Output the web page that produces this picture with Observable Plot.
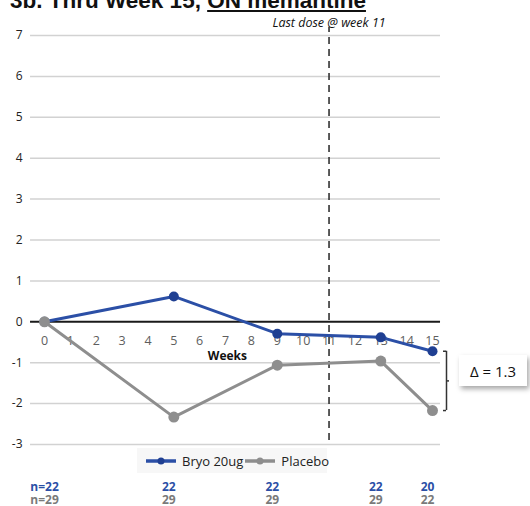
<!DOCTYPE html>
<html>
<head>
<meta charset="utf-8">
<script src="https://cdn.jsdelivr.net/npm/d3@7"></script>
<script src="https://cdn.jsdelivr.net/npm/@observablehq/plot@0.6"></script>
<style>
  html, body { margin: 0; padding: 0; background: #fff; }
  #wrap { position: relative; width: 530px; height: 506px; overflow: hidden; font-family: "Open Sans", "Noto Sans", sans-serif; }
  #title { position: absolute; left: 10px; top: -11px; font-family: "Liberation Sans", Arial, sans-serif; font-weight: bold; font-size: 22.5px; color: #111; white-space: nowrap; line-height: 24px; }
  #chart { position: absolute; left: 0; top: 0; }
  #delta { position: absolute; left: 459px; top: 355px; width: 68px; height: 31px; background: #fff; box-shadow: 2px 3px 5px rgba(0,0,0,0.35); font-size: 15px; color: #111; display: flex; align-items: center; justify-content: center; white-space: nowrap; }
  #legend { position: absolute; left: 137px; top: 448px; width: 190px; height: 25px; background: #f7f7f7; display: flex; align-items: center; font-size: 13px; color: #222; white-space: nowrap; }
  #legend .item { display: flex; align-items: center; margin-left: 9px; white-space: nowrap; flex: none; }
  #legend .item + .item { margin-left: 2px; }
  #legend svg { margin-right: 6px; }
</style>
</head>
<body>
<div id="wrap">
  <div id="chart"></div>
  <div id="title">3b. Thru Week 15, <u>ON memantine</u></div>
  <div id="delta"></div>
  <div id="legend"></div>
</div>
<script>
// ---- data ----
const weeks = [0, 5, 9, 13, 15];
const bryo = [0, 0.62, -0.29, -0.38, -0.72];
const placebo = [0, -2.33, -1.06, -0.96, -2.17];
const seriesNames = ["Bryo 20ug", "Placebo"];
const seriesColors = ["#2b4fa6", "#8e8e8e"];
const xTicks = [0, 1, 2, 3, 4, 5, 6, 7, 8, 9, 10, 11, 12, 13, 14, 15];
const yTicks = [-3, -2, -1, 0, 1, 2, 3, 4, 5, 6, 7];
const nBryo = [22, 22, 22, 22, 20];
const nPlacebo = [29, 29, 29, 29, 22];
const lastDoseWeek = 11;
const lastDoseLabel = "Last dose @ week 11";
const xLabel = "Weeks";
const deltaLabel = "Δ = 1.3";

const bryoData = weeks.map((w, i) => ({week: w, value: bryo[i]}));
const placeboData = weeks.map((w, i) => ({week: w, value: placebo[i]}));
const last = weeks.length - 1;

const gridX1 = -0.54, gridX2 = 15.31;
const bx = 15 + 14 / 25.87;

const chart = Plot.plot({
  width: 530,
  height: 506,
  marginLeft: 44,
  marginRight: 98,
  marginTop: 35,
  marginBottom: 62,
  x: {domain: [0, 15], axis: null},
  y: {domain: [-3, 7], axis: null},
  style: {fontFamily: "'Open Sans', 'Noto Sans', sans-serif", overflow: "visible", background: "transparent"},
  marks: [
    Plot.ruleY(yTicks.filter(d => d !== 0), {y: d => d, x1: gridX1, x2: gridX2, stroke: "#d2d2d2", strokeWidth: 1.5}),
    Plot.text(yTicks, {x: gridX1, y: d => d, text: d => String(d), textAnchor: "end", dx: -8, fontSize: 12, fill: "#222"}),
    Plot.text(xTicks, {x: d => d, y: 0, text: d => String(d), dy: 19, fontSize: 12.5, fill: "#5e5e5e"}),
    Plot.text([xLabel], {x: 7.07, y: 0, text: d => d, dy: 34, fontSize: 12, fontWeight: "bold", fill: "#111"}),
    Plot.ruleY([0], {x1: gridX1, x2: gridX2, stroke: "#1a1a1a", strokeWidth: 2}),
    Plot.ruleX([lastDoseWeek], {y1: -2.9, y2: 7.2, stroke: "#333", strokeWidth: 1.6, strokeDasharray: "7,5"}),
    Plot.text([lastDoseLabel], {x: lastDoseWeek, y: 7, text: d => d, dy: -13, fontSize: 12.5, fontStyle: "italic", fill: "#111"}),
    Plot.line(bryoData, {x: "week", y: "value", stroke: seriesColors[0], strokeWidth: 3}),
    Plot.dot(bryoData, {x: "week", y: "value", r: 5, fill: "#1f3f92"}),
    Plot.line(placeboData, {x: "week", y: "value", stroke: seriesColors[1], strokeWidth: 3}),
    Plot.dot(placeboData, {x: "week", y: "value", r: 5.5, fill: "#8e8e8e"}),
    // bracket between final values
    Plot.ruleX([15], {x: () => bx, y1: bryo[last], y2: placebo[last], stroke: "#333", strokeWidth: 1.5}),
    Plot.ruleY([bryo[last], placebo[last]], {y: d => d, x1: bx - 3 / 25.87, x2: bx, stroke: "#333", strokeWidth: 1.5}),
    Plot.ruleY([(bryo[last] + placebo[last]) / 2], {y: d => d, x1: bx, x2: bx + 3 / 25.87, stroke: "#333", strokeWidth: 1.5}),
    // n counts
    Plot.text([0], {x: d => d, y: -3, text: () => "n=" + nBryo[0], dy: 43, fontSize: 12, fontWeight: "bold", fill: "#2b4fa6"}),
    Plot.text([0], {x: d => d, y: -3, text: () => "n=" + nPlacebo[0], dy: 56, fontSize: 12, fontWeight: "bold", fill: "#7a7a7a"}),
    Plot.text(weeks.slice(1), {x: d => d, y: -3, text: (d, i) => String(nBryo[i + 1]), dx: -5, dy: 43, fontSize: 12, fontWeight: "bold", fill: "#2b4fa6"}),
    Plot.text(weeks.slice(1), {x: d => d, y: -3, text: (d, i) => String(nPlacebo[i + 1]), dx: -5, dy: 56, fontSize: 12, fontWeight: "bold", fill: "#7a7a7a"})
  ]
});
document.getElementById("chart").appendChild(chart);
document.getElementById("delta").textContent = deltaLabel;

const legend = document.getElementById("legend");
seriesNames.forEach((name, i) => {
  const item = document.createElement("div");
  item.className = "item";
  item.innerHTML = `<svg width="30" height="10"><line x1="0" y1="5" x2="30" y2="5" stroke="${seriesColors[i]}" stroke-width="3.5"/><circle cx="15" cy="5" r="3.5" fill="${i === 0 ? '#1f3f92' : seriesColors[i]}"/></svg><span>${name}</span>`;
  legend.appendChild(item);
});
</script>
</body>
</html>
